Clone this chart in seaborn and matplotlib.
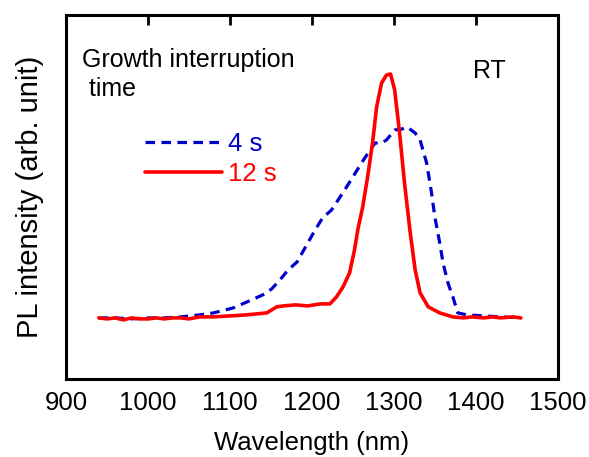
import numpy as np
import pandas as pd
import matplotlib
matplotlib.use("Agg")
import matplotlib.pyplot as plt
import seaborn as sns

# PL spectra (wavelength nm, intensity arb. unit)
wl_12s = [940, 950, 960, 970, 980, 990, 1000, 1010, 1020, 1030, 1040, 1050,
          1063, 1080, 1100, 1120, 1145, 1157, 1165, 1180, 1195, 1210, 1222,
          1230, 1238, 1246, 1252, 1256, 1262, 1268, 1274, 1279, 1285, 1291,
          1296, 1301, 1307, 1313, 1320, 1326, 1332, 1342, 1356, 1372, 1385,
          1395, 1410, 1420, 1430, 1445, 1455]
pl_12s = [61, 60, 61, 59, 61, 60, 60, 61, 60, 61, 61, 60,
          62, 62, 63, 64, 66, 72, 73, 74, 73, 75, 75,
          82, 92, 106, 129, 149, 172, 202, 236, 272, 296, 304,
          305, 289, 246, 196, 146, 109, 86, 72, 66, 62, 61,
          62, 61, 62, 61, 62, 61]

wl_4s = [940, 960, 980, 1000, 1020, 1040, 1063, 1080, 1104, 1121, 1140, 1151,
         1161, 1171, 1182, 1195, 1204, 1213, 1224, 1232, 1240, 1250, 1259,
         1267, 1277, 1285, 1291, 1301, 1310, 1316, 1326, 1332, 1340, 1346, 1350,
         1356, 1360, 1366, 1372, 1378, 1389, 1410, 1430, 1455]
pl_4s = [61, 61, 60, 61, 61, 62, 64, 66, 71, 77, 84, 90,
         99, 109, 117, 136, 149, 161, 169, 179, 189, 202, 214,
         224, 236, 236, 239, 249, 250, 252, 246, 239, 216, 186, 162,
         136, 116, 96, 82, 66, 64, 63, 62, 61]

x_ticks = [900, 1000, 1100, 1200, 1300, 1400, 1500]

sns.set_theme(style="white")
plt.rcParams['font.family'] = ['Liberation Sans', 'DejaVu Sans']
plt.rcParams['text.color'] = 'black'
plt.rcParams['axes.labelcolor'] = 'black'

fig = plt.figure(figsize=(5.89, 4.57), dpi=100)
ax = fig.add_axes([0.112, 0.171, 0.835, 0.796])

df4 = pd.DataFrame({"wl": wl_4s, "pl": pl_4s})
df12 = pd.DataFrame({"wl": wl_12s, "pl": pl_12s})
sns.lineplot(data=df4, x="wl", y="pl", ax=ax, color="#0000cc", lw=2.3,
             linestyle=(0, (3.0, 2.0)), label="4 s", sort=False)
sns.lineplot(data=df12, x="wl", y="pl", ax=ax, color="#ff0000", lw=2.6,
             label="12 s", sort=False)

ax.set_xlim(900, 1500)
ax.set_ylim(0, 364)
ax.set_xticks(x_ticks)
ax.set_yticks([])
ax.tick_params(axis="x", direction="in", length=7, width=2, top=True,
               pad=9, labelsize=18.5, colors="black")
for s in ax.spines.values():
    s.set_linewidth(2.2)
    s.set_color("black")

ax.set_xlabel("Wavelength (nm)", fontsize=18.5, labelpad=11)
ax.set_ylabel("PL intensity (arb. unit)", fontsize=21, labelpad=16)

leg = ax.legend(loc="upper left", bbox_to_anchor=(0.16, 0.678), frameon=False,
                fontsize=18.5, handlelength=3.0, handletextpad=0.25,
                labelspacing=0.24, borderpad=0, borderaxespad=0)
for txt, c in zip(leg.get_texts(), ["#0000cc", "#ff0000"]):
    txt.set_color(c)

ax.text(0.033, 0.91, "Growth interruption\n time", transform=ax.transAxes,
        fontsize=18, va="top", ha="left", linespacing=1.25)
ax.text(0.828, 0.847, "RT", transform=ax.transAxes, fontsize=18,
        va="center", ha="left")

fig.savefig("out.png", dpi=100)
